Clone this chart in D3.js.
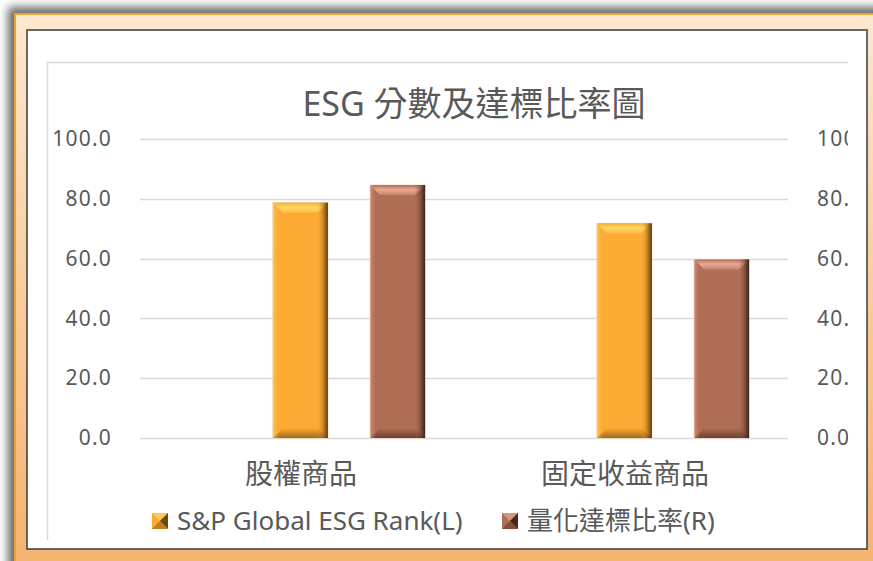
<!DOCTYPE html>
<html lang="zh-Hant">
<head>
<meta charset="UTF-8">
<title>ESG 分數及達標比率圖</title>
<script src="https://d3js.org/d3.v7.min.js"></script>
<style>
  body { margin: 0; background: #fff; }
  svg text { font-family: "Noto Sans", "Noto Sans CJK TC", sans-serif; fill: #595959; }
</style>
</head>
<body>
<div id="chart"></div>
<script>
  // datos
  const categorias = ["股權商品", "固定收益商品"];
  const series = ["S&P Global ESG Rank(L)", "量化達標比率(R)"];
  const rankL = [78.7, 71.8];
  const tasaR = [84.6, 59.7];
  const ticksY = [0, 20, 40, 60, 80, 100];

  const ancho = 873, alto = 561;
  const plot = { izq: 140, der: 788, sup: 139, inf: 438 };

  const svg = d3.select("#chart").append("svg")
    .attr("width", ancho).attr("height", alto);
  const defs = svg.append("defs");

  // marco exterior con degradado y sombra
  const gMarco = defs.append("linearGradient").attr("id", "marco")
    .attr("x1", 0).attr("y1", 0).attr("x2", 0).attr("y2", 1);
  gMarco.append("stop").attr("offset", "0%").attr("stop-color", "#fde8d0");
  gMarco.append("stop").attr("offset", "100%").attr("stop-color", "#f4ae66");

  const sombra = defs.append("filter").attr("id", "sombra")
    .attr("x", "-10%").attr("y", "-10%").attr("width", "130%").attr("height", "130%");
  sombra.append("feDropShadow").attr("dx", -6).attr("dy", -6)
    .attr("stdDeviation", 5).attr("flood-color", "#000").attr("flood-opacity", 0.6);

  defs.append("clipPath").attr("id", "recorte")
    .append("rect").attr("x", 47).attr("y", 62).attr("width", 801).attr("height", 478);

  svg.append("rect").attr("x", 15).attr("y", 14).attr("width", 900).attr("height", 600)
    .attr("fill", "url(#marco)").attr("stroke", "#f7a128").attr("stroke-width", 2)
    .attr("filter", "url(#sombra)");

  svg.append("rect").attr("x", 27).attr("y", 30).attr("width", 840).attr("height", 519)
    .attr("fill", "#fff").attr("stroke", "#3a3a3a").attr("stroke-width", 1.5);

  // borde del area del grafico (solo izquierda y arriba visibles)
  svg.append("path").attr("d", "M47.5,540 V62.5 H848")
    .attr("fill", "none").attr("stroke", "#d9d9d9").attr("stroke-width", 1.5);

  const g = svg.append("g").attr("clip-path", "url(#recorte)");

  // escalas
  const x0 = d3.scaleBand().domain(categorias).range([plot.izq, plot.der]);
  const xs = d3.scaleLinear().domain([0, 1]).range([0, x0.bandwidth()]);
  const posSerie = [0.495, 0.795];
  const anchoBarra = 55;
  const yL = d3.scaleLinear().domain([0, 100]).range([plot.inf, plot.sup]);
  const yR = d3.scaleLinear().domain([0, 100]).range([plot.inf, plot.sup]);

  // lineas de cuadricula
  g.selectAll(".grid").data(ticksY).enter().append("line")
    .attr("x1", plot.izq).attr("x2", plot.der)
    .attr("y1", d => Math.round(yL(d)) + 0.5).attr("y2", d => Math.round(yL(d)) + 0.5)
    .attr("stroke", "#d9d9d9").attr("stroke-width", 1.5);

  // ejes
  const ejeL = g.append("g").attr("transform", "translate(" + (plot.izq - 25) + ",0)")
    .call(d3.axisLeft(yL).tickValues(ticksY).tickFormat(d3.format(".1f")).tickSize(0));
  const ejeR = g.append("g").attr("transform", "translate(" + (plot.der + 26) + ",0)")
    .call(d3.axisRight(yR).tickValues(ticksY).tickFormat(d3.format(".1f")).tickSize(0));
  [ejeL, ejeR].forEach(e => {
    e.select(".domain").remove();
    e.selectAll("text").attr("font-size", 21).attr("fill", "#595959")
      .attr("font-family", "'Noto Sans', sans-serif").attr("letter-spacing", 1.2);
  });

  // degradados para el efecto biselado
  const colores = [
    { base: "#fbab33", claro: "#fed864", oscuro: "#4a2e08", fondo: "#a8691a" },
    { base: "#b06e55", claro: "#e8a892", oscuro: "#2e1812", fondo: "#6e4132" }
  ];
  colores.forEach((c, i) => {
    const lg = defs.append("linearGradient").attr("id", "lado" + i)
      .attr("x1", 0).attr("y1", 0).attr("x2", 1).attr("y2", 0);
    lg.append("stop").attr("offset", "0%").attr("stop-color", c.claro).attr("stop-opacity", 0.6);
    lg.append("stop").attr("offset", "12%").attr("stop-color", c.base).attr("stop-opacity", 0);
    lg.append("stop").attr("offset", "80%").attr("stop-color", c.base).attr("stop-opacity", 0);
    lg.append("stop").attr("offset", "100%").attr("stop-color", c.oscuro).attr("stop-opacity", 0.95);
    const tg = defs.append("linearGradient").attr("id", "tope" + i)
      .attr("x1", 0).attr("y1", 0).attr("x2", 0).attr("y2", 1);
    tg.append("stop").attr("offset", "0%").attr("stop-color", c.base);
    tg.append("stop").attr("offset", "45%").attr("stop-color", c.claro);
    tg.append("stop").attr("offset", "100%").attr("stop-color", c.claro).attr("stop-opacity", 0.4);
    const bg = defs.append("linearGradient").attr("id", "pie" + i)
      .attr("x1", 0).attr("y1", 0).attr("x2", 0).attr("y2", 1);
    bg.append("stop").attr("offset", "0%").attr("stop-color", c.base);
    bg.append("stop").attr("offset", "100%").attr("stop-color", c.fondo);
  });

  const bis = 10;
  function barraBiselada(sel, x, y, w, h, i) {
    const c = colores[i];
    const b = sel.append("g");
    b.append("rect").attr("x", x).attr("y", y).attr("width", w).attr("height", h)
      .attr("fill", c.base).attr("stroke", "#e8d2b8").attr("stroke-width", 0.8);
    b.append("path")
      .attr("d", `M${x},${y} H${x + w} L${x + w - bis},${y + bis} H${x + bis} Z`)
      .attr("fill", `url(#tope${i})`);
    b.append("path")
      .attr("d", `M${x},${y + h} H${x + w} L${x + w - bis},${y + h - bis} H${x + bis} Z`)
      .attr("fill", `url(#pie${i})`);
    b.append("rect").attr("x", x).attr("y", y).attr("width", w).attr("height", h)
      .attr("fill", `url(#lado${i})`);
  }

  const valores = [rankL, tasaR];
  const escalas = [yL, yR];
  valores.forEach((serie, i) => {
    serie.forEach((v, j) => {
      const cx = x0(categorias[j]) + xs(posSerie[i]);
      const yTop = escalas[i](v);
      barraBiselada(g, cx - anchoBarra / 2, yTop, anchoBarra, escalas[i](0) - yTop, i);
    });
  });

  // etiquetas de categoria
  g.selectAll(".cat").data(categorias).enter().append("text")
    .attr("x", d => x0(d) + x0.bandwidth() / 2 - 1)
    .attr("y", 484)
    .attr("text-anchor", "middle")
    .attr("font-size", 28)
    .text(d => d);

  // titulo
  g.append("text").attr("x", 474).attr("y", 116)
    .attr("text-anchor", "middle").attr("font-size", 34)
    .text("ESG 分數及達標比率圖");

  // leyenda
  const leyendaX = [152, 502];
  const ley = g.selectAll(".ley").data(series).enter().append("g")
    .attr("transform", (d, i) => `translate(${leyendaX[i]},513)`);
  ley.each(function(d, i) {
    const s = d3.select(this);
    const c = colores[i];
    const t = 16;
    s.append("rect").attr("width", t).attr("height", t).attr("fill", c.base);
    s.append("path").attr("d", `M0,0 H${t} L${t / 2},${t / 2} Z`).attr("fill", c.claro).attr("opacity", 0.7);
    s.append("path").attr("d", `M${t},0 V${t} L${t / 2},${t / 2} Z`).attr("fill", c.oscuro).attr("opacity", 0.8);
    s.append("path").attr("d", `M0,${t} H${t} L${t / 2},${t / 2} Z`).attr("fill", c.fondo).attr("opacity", 0.7);
    s.append("text").attr("x", t + 9).attr("y", t / 2).attr("dy", "0.36em")
      .attr("font-size", 26).text(d);
  });
</script>
</body>
</html>
